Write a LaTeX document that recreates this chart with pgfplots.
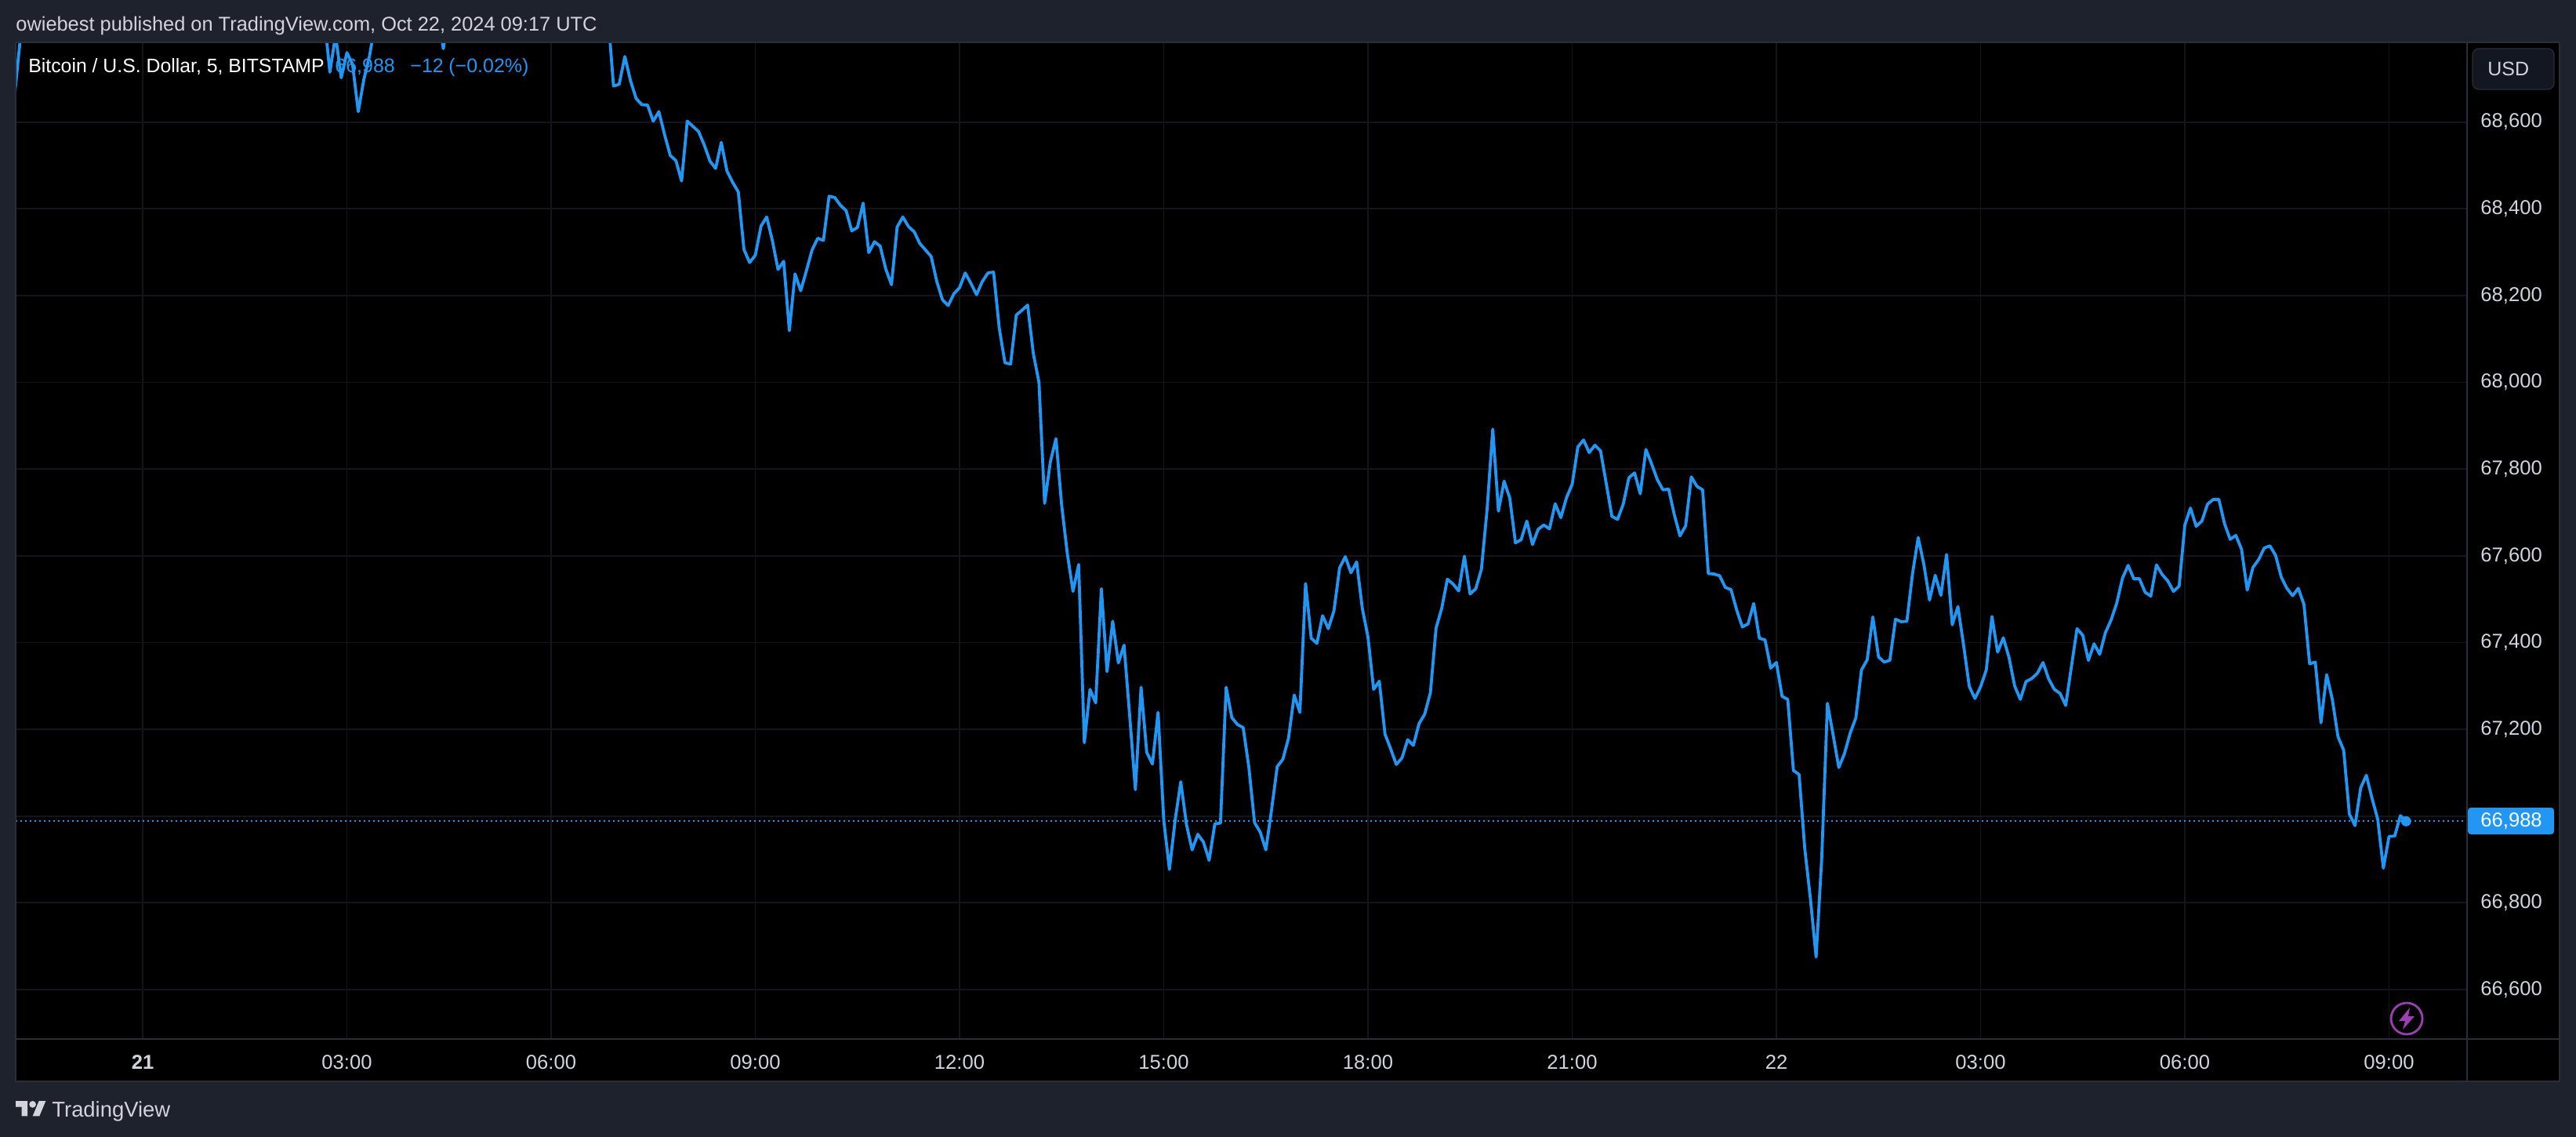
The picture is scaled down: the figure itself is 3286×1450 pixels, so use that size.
\documentclass[border=0pt]{standalone}
\usepackage{fontspec}
\usepackage{pgfplots}
\pgfplotsset{compat=1.18}
\setmainfont{Liberation Sans}
\definecolor{bg}{HTML}{1E222D}
\definecolor{bord}{HTML}{2A2E39}
\definecolor{txt}{HTML}{D1D4DC}
\definecolor{blu}{HTML}{2196F3}
\definecolor{gridc}{HTML}{141518}
\definecolor{btn}{HTML}{131722}
\definecolor{bolt}{HTML}{9C3FB0}
\newcommand{\sz}[1]{\fontsize{#1}{#1}\selectfont}
\begin{document}
\begin{tikzpicture}
\begin{scope}[x=0.5pt,y=-0.5pt]
\path[use as bounding box,fill=bg] (0,0) rectangle (3286,1450);
\fill[black] (20,54) rectangle (3265,1379);
\end{scope}
\begin{axis}[
  at={(10pt,-27pt)},anchor=north west,
  scale only axis,width=1563.5pt,height=635.5pt,
  xmin=-22.39,xmax=409.76,ymin=66486.1,ymax=68783.7,
  axis background/.style={fill=black},
  axis line style={draw=none},
  major tick length=0pt,
  xmajorgrids,ymajorgrids,
  grid style={color=gridc,line width=0.9pt},
  xtick={0,36,72,108,144,180,216,252,288,324,360,396},
  xticklabels={\textbf{21},03:00,06:00,09:00,12:00,15:00,18:00,21:00,22,03:00,06:00,09:00},
  ytick={66600,66800,67000,67200,67400,67600,67800,68000,68200,68400,68600},
  ticklabel pos=right,
  xticklabel pos=lower,
  scaled y ticks=false,
  yticklabel style={/pgf/number format/.cd,1000 sep={,},assume math mode=true,/tikz/.cd,anchor=west,inner sep=0pt,xshift=8.5pt,font=\sz{12.8},text=txt},
  xticklabel style={anchor=north,inner sep=0pt,yshift=-10pt,font=\sz{12.8},text=txt},
]
\addplot[blu,line width=1pt,dash pattern=on 1pt off 2pt,forget plot] coordinates {(-22.39,66988) (409.76,66988)};
\addplot[blu,line width=1.9pt,line join=round,forget plot] coordinates {
(-23,68606)(-22,68737)(-21,68867)(0,69000)(15,69050)(31,68900)(32,68843)
(33,68715)(34,68800)(35,68702)(36,68760)(37,68733)(38,68624)(39,68699)(40,68753)
(41,68830)(46,68900)(51,68850)(52,68856)(53,68769)(54,68856)(60,68950)(70,68950)(80,68950)(82,68850)
(83,68683)(84,68687)(85,68751)(86,68695)(87,68654)(88,68640)(89,68639)(90,68602)
(91,68624)(92,68571)(93,68523)(94,68511)(95,68464)(96,68602)(97,68590)(98,68578)
(99,68547)(100,68510)(101,68493)(102,68553)(103,68487)(104,68461)(105,68439)(106,68306)
(107,68276)(108,68293)(109,68360)(110,68381)(111,68327)(112,68260)(113,68279)(114,68119)
(115,68250)(116,68211)(117,68257)(118,68305)(119,68332)(120,68327)(121,68429)(122,68426)
(123,68408)(124,68396)(125,68349)(126,68357)(127,68413)(128,68299)(129,68324)(130,68314)
(131,68261)(132,68225)(133,68358)(134,68381)(135,68359)(136,68347)(137,68320)(138,68305)
(139,68290)(140,68232)(141,68190)(142,68177)(143,68204)(144,68218)(145,68252)(146,68228)
(147,68202)(148,68232)(149,68252)(150,68254)(151,68125)(152,68045)(153,68042)(154,68155)
(155,68166)(156,68178)(157,68067)(158,68000)(159,67721)(160,67816)(161,67870)(162,67717)
(163,67605)(164,67518)(165,67580)(166,67169)(167,67292)(168,67261)(169,67524)(170,67333)
(171,67449)(172,67353)(173,67394)(174,67230)(175,67061)(176,67297)(177,67147)(178,67120)
(179,67239)(180,66990)(181,66877)(182,66990)(183,67079)(184,66981)(185,66922)(186,66958)
(187,66940)(188,66898)(189,66982)(190,66984)(191,67297)(192,67227)(193,67211)(194,67204)
(195,67113)(196,66985)(197,66963)(198,66922)(199,67014)(200,67114)(201,67131)(202,67180)
(203,67279)(204,67239)(205,67536)(206,67410)(207,67398)(208,67462)(209,67432)(210,67473)
(211,67572)(212,67598)(213,67561)(214,67586)(215,67479)(216,67413)(217,67292)(218,67311)
(219,67189)(220,67155)(221,67119)(222,67134)(223,67176)(224,67163)(225,67213)(226,67235)
(227,67284)(228,67433)(229,67479)(230,67546)(231,67535)(232,67519)(233,67599)(234,67512)
(235,67524)(236,67569)(237,67707)(238,67892)(239,67703)(240,67772)(241,67733)(242,67630)
(243,67637)(244,67680)(245,67626)(246,67661)(247,67671)(248,67662)(249,67720)(250,67688)
(251,67734)(252,67765)(253,67851)(254,67867)(255,67838)(256,67855)(257,67842)(258,67767)
(259,67691)(260,67684)(261,67719)(262,67780)(263,67791)(264,67743)(265,67845)(266,67812)
(267,67776)(268,67752)(269,67754)(270,67695)(271,67646)(272,67669)(273,67782)(274,67760)
(275,67752)(276,67559)(277,67558)(278,67554)(279,67527)(280,67522)(281,67475)(282,67436)
(283,67443)(284,67490)(285,67410)(286,67406)(287,67341)(288,67354)(289,67276)(290,67269)
(291,67105)(292,67096)(293,66925)(294,66809)(295,66675)(296,66905)(297,67260)(298,67187)
(299,67112)(300,67144)(301,67191)(302,67226)(303,67337)(304,67360)(305,67459)(306,67367)
(307,67355)(308,67359)(309,67454)(310,67448)(311,67449)(312,67559)(313,67642)(314,67580)
(315,67498)(316,67555)(317,67509)(318,67603)(319,67441)(320,67483)(321,67394)(322,67299)
(323,67271)(324,67298)(325,67337)(326,67460)(327,67378)(328,67411)(329,67366)(330,67300)
(331,67269)(332,67310)(333,67317)(334,67329)(335,67354)(336,67316)(337,67292)(338,67283)
(339,67255)(340,67344)(341,67432)(342,67417)(343,67359)(344,67397)(345,67373)(346,67423)
(347,67452)(348,67491)(349,67548)(350,67578)(351,67547)(352,67547)(353,67516)(354,67507)
(355,67579)(356,67557)(357,67542)(358,67518)(359,67530)(360,67671)(361,67710)(362,67668)
(363,67680)(364,67719)(365,67730)(366,67730)(367,67674)(368,67638)(369,67647)(370,67615)
(371,67521)(372,67573)(373,67591)(374,67618)(375,67623)(376,67601)(377,67551)(378,67525)
(379,67508)(380,67525)(381,67488)(382,67351)(383,67355)(384,67215)(385,67326)(386,67269)
(387,67183)(388,67152)(389,67005)(390,66978)(391,67065)(392,67094)(393,67041)(394,66993)
(395,66880)(396,66953)(397,66954)(398,67001)(399,66988)};
\addplot[only marks,mark=*,mark size=3pt,blu,mark options={draw=blu,fill=blu},forget plot] coordinates {(399,66988)};
\end{axis}
\begin{scope}[x=0.5pt,y=-0.5pt]
% frame
\draw[bord,line width=1pt] (20,54) -- (3265,54);
\draw[bord,line width=1pt] (20,54) -- (20,1379) -- (3265,1379) -- (3265,54);
\draw[bord,line width=1pt] (3147,54) -- (3147,1379);
\draw[bord,line width=1.2pt] (20,1325) -- (3265,1325);
% price label
\fill[blu,rounded corners=2pt] (3148,1030) rectangle (3258,1064);
\node[anchor=west,inner sep=0pt,text=white,font=\sz{12.8}] at (3164,1047) {66,988};
% USD button
\draw[bord,fill=btn,line width=0.6pt,rounded corners=4pt] (3154,62) rectangle (3258,114);
\node[anchor=base west,inner sep=0pt,text=txt,font=\sz{12.5}] at (3173,97) {USD};
% header and legend
\node[anchor=base west,inner sep=0pt,text=txt,font=\sz{12.7}] at (20,40) {owiebest published on TradingView.com, Oct 22, 2024 09:17 UTC};
\node[anchor=base west,inner sep=0pt,text=white,font=\sz{12.4}] at (36,93) {Bitcoin / U.S. Dollar, 5, BITSTAMP};
\node[anchor=base west,inner sep=0pt,text=blu,font=\sz{12.5}] at (427,93) {66,988};
\node[anchor=base west,inner sep=0pt,text=blu,font=\sz{12.5}] at (523,93) {−12};
\node[anchor=base west,inner sep=0pt,text=blu,font=\sz{12.5}] at (572,93) {(−0.02\%)};
% lightning
\draw[bolt,line width=1.4pt] (3070,1299) circle [radius=20];
\fill[bolt] (3074,1285) -- (3060,1302) -- (3068,1302) -- (3065,1313) -- (3080,1296) -- (3072,1296) -- cycle;
% logo
\begin{scope}[shift={(20,1399.7)},x=0.54pt,y=-0.54pt]
\fill[txt] (14,22) -- (7,22) -- (7,11) -- (0,11) -- (0,4) -- (14,4) -- cycle;
\fill[txt] (28,22) -- (20,22) -- (27.5,4) -- (35.5,4) -- cycle;
\fill[txt] (20,8) circle [radius=4];
\end{scope}
\node[anchor=base west,inner sep=0pt,text=txt,font=\sz{13.7}] at (66,1424) {TradingView};
\end{scope}
\end{tikzpicture}
\end{document}
